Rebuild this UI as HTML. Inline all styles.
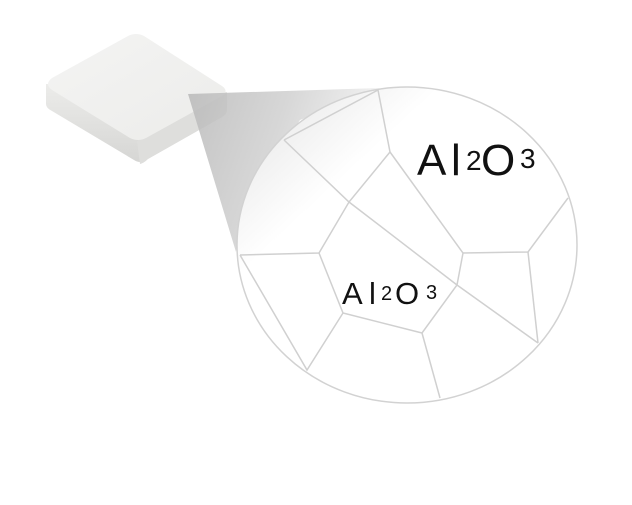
<!DOCTYPE html>
<html><head><style>body{margin:0;background:#fff}</style></head><body>
<svg width="632" height="500" viewBox="0 0 632 500" xmlns="http://www.w3.org/2000/svg">
<defs>
<linearGradient id="cone" x1="0" y1="0" x2="1" y2="0.3">
<stop offset="0" stop-color="#b8b8b8"/><stop offset="0.5" stop-color="#d0d0d0"/><stop offset="1" stop-color="#f4f4f4"/>
</linearGradient>
<linearGradient id="top" x1="0" y1="0" x2="1" y2="1">
<stop offset="0" stop-color="#f4f4f3"/><stop offset="1" stop-color="#ececea"/>
</linearGradient>
<linearGradient id="side" x1="0" y1="0" x2="0" y2="1">
<stop offset="0" stop-color="#ececea"/><stop offset="1" stop-color="#d6d6d4"/>
</linearGradient>
<linearGradient id="inner" x1="0" y1="0" x2="1" y2="1">
<stop offset="0" stop-color="#e2e2e2"/><stop offset="0.3" stop-color="#fff"/><stop offset="1" stop-color="#fff"/>
</linearGradient>
</defs>
<path d="M46,84 L46,104 Q46,108 52,111 L134,160 Q140,164 146,160 L222,117 Q227,114 227,110 L227,92 Z" fill="url(#side)"/>
<path d="M137,141 L140,164 Q144,163 148,159 L222,117 Q227,114 227,110 L227,93 Z" fill="#dededc"/>
<path d="M52,78 L128,36 Q136,32 144,36 L222,86 Q229,91 222,96 L146,138 Q138,142 130,138 L52,90 Q44,84 52,78 Z" fill="url(#top)"/>
<polygon points="188,94 380,88 300,120 245,200 236,252" fill="url(#cone)" opacity="0.85"/>
<ellipse cx="407" cy="245" rx="170" ry="158" fill="url(#inner)" stroke="#d2d2d2" stroke-width="1.5"/>
<g stroke="#d0d0d0" stroke-width="1.5" fill="none">
<polyline points="284,140 378,90 390,152"/>
<polyline points="284,140 349,202 457,285 538,343"/>
<polyline points="390,152 349,202 319,253 240,255"/>
<polyline points="319,253 343,313 422,333 457,285 463,253 390,152"/>
<polyline points="463,253 528,252 568,198"/>
<line x1="528" y1="252" x2="538" y2="343"/>
<polyline points="240,255 307,370 343,313"/>
<line x1="422" y1="333" x2="440" y2="398"/>
</g>
<g font-family="Liberation Sans, sans-serif" fill="#111">
<text y="175" font-size="44"><tspan x="417">A</tspan><tspan x="451">l</tspan><tspan x="466" y="170" font-size="28">2</tspan><tspan x="481" y="175">O</tspan><tspan x="520" y="168" font-size="28">3</tspan></text>
<text y="304" font-size="31"><tspan x="342">A</tspan><tspan x="369">l</tspan><tspan x="381" y="300" font-size="20">2</tspan><tspan x="395" y="304">O</tspan><tspan x="426" y="299" font-size="20">3</tspan></text>
</g>
</svg>
</body></html>
